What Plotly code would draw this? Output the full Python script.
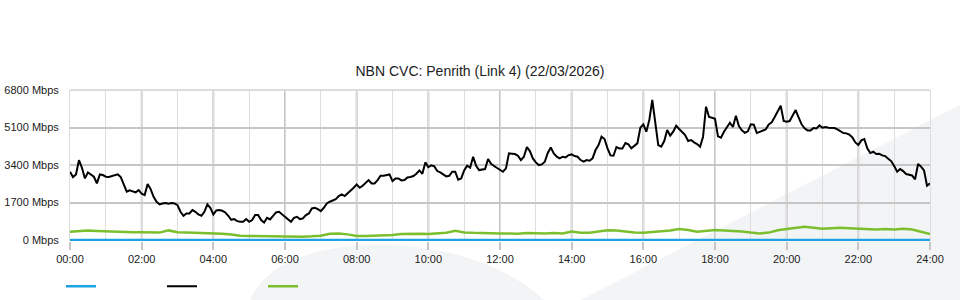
import plotly.graph_objects as go

title = "NBN CVC: Penrith (Link 4) (22/03/2026)"
y_ticks = [0, 1700, 3400, 5100, 6800]
y_tick_labels = ["0 Mbps", "1700 Mbps", "3400 Mbps", "5100 Mbps", "6800 Mbps"]
x_ticks = [0, 2, 4, 6, 8, 10, 12, 14, 16, 18, 20, 22, 24]
x_tick_labels = ["00:00", "02:00", "04:00", "06:00", "08:00", "10:00", "12:00",
                 "14:00", "16:00", "18:00", "20:00", "22:00", "24:00"]

# black series: 5-minute samples 00:00 .. 24:00
black_values = [
    3097, 2856, 2977, 3620, 3280, 2795, 3067, 2977, 2871, 2570,
    2977, 2947, 2871, 2856, 2886, 2916, 2977, 2856, 2493, 2191,
    2251, 2191, 2161, 2267, 2100, 2040, 2539, 2312, 1965, 1738,
    1617, 1662, 1677, 1647, 1677, 1662, 1586, 1284, 1103, 1209,
    1209, 1360, 1284, 1163, 1103, 1284, 1617, 1465, 1163, 1345,
    1360, 1330, 1254, 1103, 922, 952, 861, 831, 831, 952,
    831, 907, 1133, 1133, 907, 801, 1012, 937, 1103, 1254,
    1284, 1163, 1050,
    907, 831, 1012, 1058, 952, 982, 1133, 1209, 1435,
    1465, 1405, 1314, 1465, 1662, 1738, 1813, 1858, 1995, 2070,
    1995, 2115, 2221, 2372, 2523, 2372, 2463, 2599, 2720, 2569,
    2569, 2720, 2916, 2916, 2947, 2977, 2675, 2795, 2795, 2705,
    2720, 2841, 2856, 2901, 3007, 3158, 3007, 3521, 3310, 3385,
    3340, 3128, 3067, 2992, 2886, 2916, 3098, 3098, 2735, 2795,
    3158, 3370, 3279, 3777, 3370, 3173, 3204, 3219, 3672, 3461,
    3355, 3279, 3173,
    3098, 3250, 3929, 3914, 3899, 3823, 3627, 3778, 4216,
    4035, 3702, 3521, 3400, 3430, 3551, 3950, 4200, 3929, 3778,
    3702, 3778, 3747, 3853, 3883, 3808, 3778, 3627, 3551, 3627,
    3596, 3702, 4080, 4307, 4684, 4579, 4155, 3838, 3823, 4216,
    4155, 4155, 4397, 4337, 4155, 4261, 4382, 5092, 5243, 4911,
    5440, 6347, 5300, 4307, 4231, 4488, 4986, 4730, 4911, 5183,
    5032, 4911, 4760, 4488, 4533, 4427, 4352, 4231, 4684, 6044,
    5576, 5546, 5500,
    4700, 4640, 4911, 5123, 5319, 5123, 5637, 5168, 4971,
    4865, 4926, 5243, 5228, 4850, 4911, 4971, 5017, 5243, 5334,
    5576, 5848, 6090, 5395, 5365, 5395, 5667, 5893, 5561, 5243,
    5062, 4971, 4971, 5077, 5062, 5198, 5092, 5123, 5092, 5092,
    5077, 5017, 4941, 4850, 4835, 4775, 4654, 4427, 4307, 4518,
    4579, 4155, 3944, 4004, 3899, 3914, 3838, 3808, 3687, 3581,
    3355, 3098, 3219, 3128, 2992, 2947, 2931, 2750, 3450, 3330,
    3158, 2463, 2569,
]
black_hours = [i * 5 / 60 for i in range(len(black_values))]

# green series: 15-minute samples 00:00 .. 24:00
green_values = [
    378, 400, 430, 410, 390, 395, 370, 360, 355, 360,
    340, 440, 360, 340, 330, 320, 300, 290, 250, 200,
    190, 180, 190, 160, 151, 160, 151, 170, 200, 290,
    300, 260, 185, 190, 205, 211, 230, 280, 300, 290,
    280, 300, 330, 420, 350, 330, 320, 280, 300, 300,
    290, 320, 300, 300, 320, 300, 390, 330, 330, 400,
    450, 440, 380, 340, 330, 360, 410, 440, 500, 460,
    380, 400, 453, 430, 420, 390, 340, 300, 340, 450,
    500, 560, 600, 560, 520, 540, 560, 540, 520, 510,
    480, 500, 480, 520, 480, 380, 280,
]
green_hours = [i * 0.25 for i in range(len(green_values))]

blue_hours = [0, 24]
blue_values = [0, 0]

fig = go.Figure()
fig.add_trace(go.Scatter(x=blue_hours, y=blue_values, mode="lines", name="",
                         line=dict(color="#1ea2e4", width=2.5), hoverinfo="skip"))
fig.add_trace(go.Scatter(x=black_hours, y=black_values, mode="lines", name="",
                         line=dict(color="#000000", width=2)))
fig.add_trace(go.Scatter(x=green_hours, y=green_values, mode="lines", name="",
                         line=dict(color="#7cbf2e", width=2.5)))

# pixel -> paper helpers for background watermark (plot area 70..930 x, 90..240 y)
def px(x):
    return (x - 70) / 860

def py(y):
    return (240 - y) / 150

hill = (f"M {px(250)},{py(300)} C {px(275)},{py(225)} {px(470)},{py(225)} "
        f"{px(545)},{py(300)} Z")
band = f"M {px(578)},{py(300)} L {px(975)},{py(97)} L {px(975)},{py(300)} Z"

shapes = [
    dict(type="path", path=hill, xref="paper", yref="paper",
         fillcolor="#f3f4f6", line=dict(width=0), layer="below"),
    dict(type="path", path=band, xref="paper", yref="paper",
         fillcolor="#f3f4f6", line=dict(width=0), layer="below"),
]
for h in x_ticks[1:-1]:
    shapes.append(dict(type="line", xref="x", yref="paper", x0=h, x1=h, y0=0, y1=1,
                       line=dict(color="#c6c6c6", width=2), layer="below"))
shapes.append(dict(type="line", xref="paper", yref="paper", x0=0, x1=1, y0=1, y1=1,
                   line=dict(color="#dcdcdc", width=2), layer="above"))

fig.update_layout(
    width=960, height=300,
    margin=dict(l=70, r=30, t=90, b=59.1, pad=0, autoexpand=False),
    paper_bgcolor="white", plot_bgcolor="rgba(0,0,0,0)",
    font=dict(family="Liberation Sans, Arial, sans-serif", size=11, color="#222222"),
    title=dict(text=title, x=0.5, xref="container", xanchor="center",
               y=1 - 71 / 300, yref="container", yanchor="middle",
               font=dict(size=14, color="#222222")),
    showlegend=True,
    legend=dict(orientation="h", x=px(61), xanchor="left", y=py(285), yanchor="middle",
                entrywidth=56, entrywidthmode="pixels", itemwidth=30,
                bgcolor="rgba(0,0,0,0)", font=dict(size=11)),
    shapes=shapes,
    hovermode=False,
)

fig.update_xaxes(
    range=[0, 24], tickmode="array", tickvals=x_ticks, ticktext=x_tick_labels,
    showgrid=False, zeroline=False, showline=False, automargin=False,
    ticks="outside", ticklen=8, tickwidth=2, tickcolor="#c6c6c6",
    minor=dict(dtick=1, tick0=0, showgrid=True, gridcolor="#dedede", gridwidth=1, ticks=""),
    tickfont=dict(size=11, color="#222222"),
)
fig.update_yaxes(
    range=[-40, 6800], tickmode="array", tickvals=y_ticks, ticktext=y_tick_labels,
    showgrid=True, gridcolor="#c6c6c6", gridwidth=2, zeroline=False,
    showline=True, mirror=True, linecolor="#dcdcdc", linewidth=1, automargin=False,
    ticks="", ticklabelstandoff=8,
    tickfont=dict(size=11, color="#222222"),
)

fig.write_html("out.html")
